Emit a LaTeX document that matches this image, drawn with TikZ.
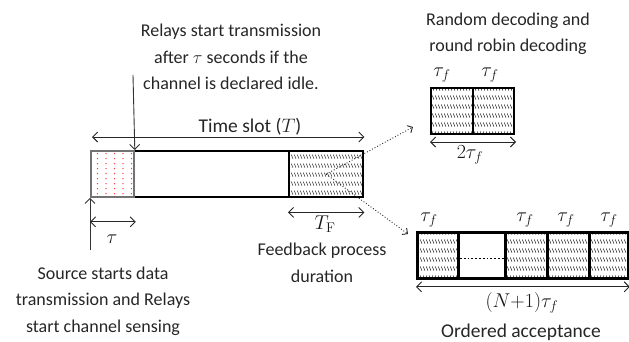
\RequirePackage{fix-cm}
\documentclass[tikz,border=0pt]{standalone}
\usepackage[no-math]{fontspec}
\setmainfont{Carlito}
\usetikzlibrary{arrows.meta,patterns,calc}
\pgfdeclarepatternformonly{shorthatch}{\pgfpointorigin}{\pgfqpoint{3pt}{8.5pt}}{\pgfqpoint{3pt}{8.5pt}}{%
  \pgfsetlinewidth{0.65pt}%
  \pgfpathmoveto{\pgfqpoint{0.3pt}{6.8pt}}\pgfpathlineto{\pgfqpoint{2.6pt}{2.4pt}}\pgfusepath{stroke}}
\pgfdeclarepatternformonly{reddots}{\pgfqpoint{-1pt}{-1pt}}{\pgfqpoint{9pt}{6pt}}{\pgfqpoint{8.5pt}{5pt}}{%
  \pgfpathcircle{\pgfqpoint{4pt}{2.5pt}}{0.75pt}\pgfusepath{fill}}
\tikzset{
  txt/.style={font=\fontsize{18}{26.5}\selectfont, text=black!85, align=center, inner sep=0pt},
  bigtxt/.style={font=\fontsize{19.5}{24}\selectfont, text=black!85, inner sep=0pt},
  mth/.style={font=\fontsize{20}{22}\selectfont, text=black!90, inner sep=0pt},
  cell/.style={draw=black, line width=2pt, minimum height=46pt, inner sep=0pt, anchor=north west},
  hatched/.style={pattern=shorthatch, pattern color=black!85},
  dim/.style={{Straight Barb[length=5pt,width=10pt]}-{Straight Barb[length=5pt,width=10pt]}, line width=0.9pt, draw=black!85},
  ptr/.style={-{Straight Barb[length=5pt,width=10pt]}, line width=0.9pt, draw=black!80},
  dotarrow/.style={-{Straight Barb[length=4pt,width=8pt]}, dotted, line width=0.9pt, draw=black!85}
}
\begin{document}
\begin{tikzpicture}[x=1pt,y=-1pt]
\useasboundingbox (0,0) rectangle (629,341);
% main time slot bar
\node[cell, line width=2.4pt, minimum width=272pt] (bar) at (90,150) {};
\node[cell, draw=black!55, line width=1.8pt, minimum width=43pt, pattern=reddots, pattern color=red!75] (src) at (90,150) {};
\node[cell, line width=2.4pt, minimum width=74pt, hatched] (fb) at (288,150) {};
% random decoding box
\node[cell, minimum width=42pt, hatched] (rd1) at (430,87) {};
\node[cell, minimum width=41pt, hatched] (rd2) at (472,87) {};
% ordered acceptance box
\node[cell, line width=2.8pt, minimum width=41pt, hatched] (c1) at (416,231) {};
\node[cell, line width=2.8pt, minimum width=47pt] (c2) at (457,231) {};
\node[cell, line width=2.8pt, minimum width=42pt, hatched] (c3) at (504,231) {};
\node[cell, line width=2.8pt, minimum width=42pt, hatched] (c4) at (546,231) {};
\node[cell, line width=2.8pt, minimum width=39pt, hatched] (c5) at (588,231) {};
\draw[dotted, line width=1.8pt] ($(c2.west)+(3,3)$) -- ($(c2.east)+(-3,3)$);
% texts
\node[txt] (relaytxt) at (231,57) {Relays start transmission\\after $\tau$ seconds if the\\channel is declared idle.};
\node[txt] (srctxt) at (103,301) {Source starts data\\transmission and Relays\\start channel sensing};
\node[txt] (fbtxt) at (322,263) {Feedback process\\duration};
\node[txt] (rdtxt) at (508,34) {Random decoding and\\round robin decoding};
\node[bigtxt] (oatxt) at (521,332) {Ordered acceptance};
\node[bigtxt] (tslabel) at (250,127) {Time slot ($T$)};
% math labels
\node[mth] (taulab) at (112,239) {$\tau$};
\node[mth] (tflab) at (325,224) {$T_{\mathrm{F}}$};
\node[mth] (rdl1) at (442,75) {$\tau_f$};
\node[mth] (rdl2) at (490,75) {$\tau_f$};
\node[mth] (rdw) at (470,155) {$2\tau_f$};
\node[mth] (oal1) at (429,220) {$\tau_f$};
\node[mth] (oal3) at (525,220) {$\tau_f$};
\node[mth] (oal4) at (566,220) {$\tau_f$};
\node[mth] (oal5) at (609,220) {$\tau_f$};
\node[mth] (oaw) at (522,303) {$(N{+}1)\tau_f$};
% pointers
\coordinate (relaytop) at (133,75);
\draw[ptr] (relaytop) -- (src.north east);
\coordinate (srcbot) at (90,250);
\draw[ptr] (srcbot) -- (src.south west);
% dimension arrows
\draw[dim] ($(bar.north west)+(2,-13)$) -- ($(bar.north east)+(0,-13)$);
\draw[dim] ($(src.south west)+(0,24)$) -- ($(src.south east)+(1,24)$);
\draw[dim] ($(fb.south west)+(0,14)$) -- ($(fb.south east)+(0,14)$);
\draw[dim] ($(rd1.south west)+(0,7)$) -- ($(rd2.south east)+(1,7)$);
\draw[dim] ($(c1.south west)+(0,7)$) -- ($(c5.south east)+(0,7)$);
% dotted zoom arrows
\draw[dotarrow] (fb.center) -- ($(rd1.south west)+(-17,-8)$);
\draw[dotarrow] (fb.center) -- ($(c1.north west)+(-8,3)$);
\end{tikzpicture}
\end{document}
